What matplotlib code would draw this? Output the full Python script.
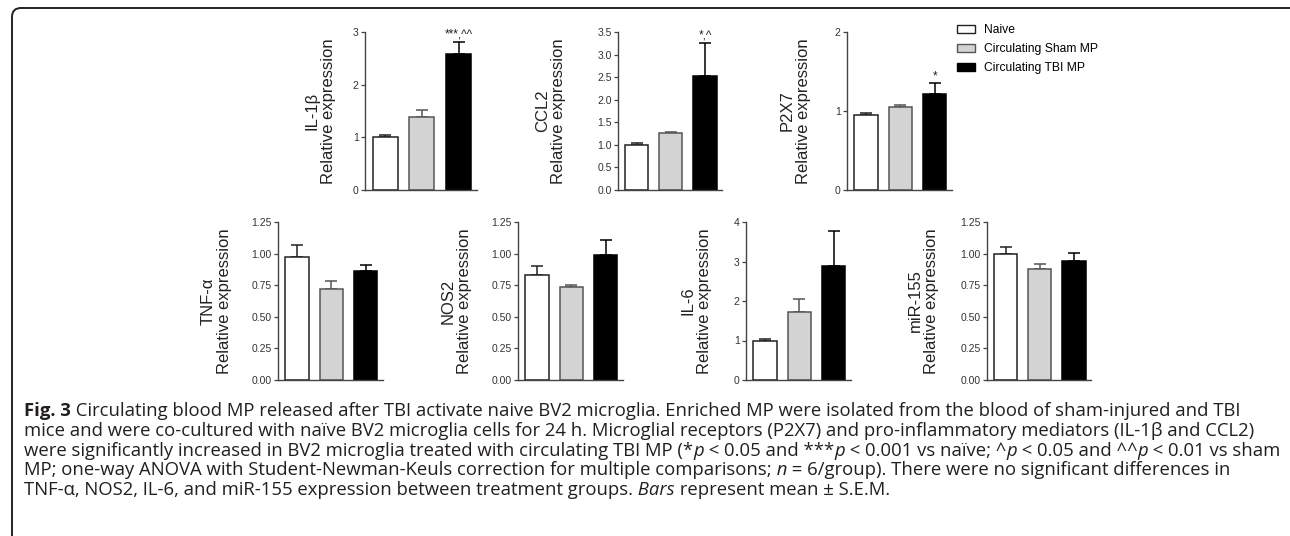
import matplotlib
matplotlib.use("Agg")
import matplotlib.pyplot as plt
from matplotlib.patches import Patch, FancyBboxPatch
from matplotlib.transforms import IdentityTransform

# groups and colours
groups = ["Naive", "Circulating Sham MP", "Circulating TBI MP"]
fills = ["#ffffff", "#d3d3d3", "#000000"]
edges = ["#222222", "#555555", "#000000"]

# mean and S.E.M.
il1b_mean = [1.00, 1.39, 2.59]
il1b_sem = [0.04, 0.13, 0.22]
ccl2_mean = [1.00, 1.26, 2.53]
ccl2_sem = [0.04, 0.015, 0.73]
p2x7_mean = [0.95, 1.05, 1.21]
p2x7_sem = [0.02, 0.03, 0.14]
tnf_mean = [0.97, 0.72, 0.86]
tnf_sem = [0.095, 0.066, 0.05]
nos2_mean = [0.83, 0.735, 0.99]
nos2_sem = [0.074, 0.02, 0.114]
il6_mean = [1.00, 1.73, 2.89]
il6_sem = [0.05, 0.32, 0.89]
mir155_mean = [1.00, 0.877, 0.941]
mir155_sem = [0.056, 0.043, 0.066]

# y ticks
ticks_3 = [0, 1, 2, 3]
ticks_ccl2 = [0.0, 0.5, 1.0, 1.5, 2.0, 2.5, 3.0, 3.5]
ticks_2 = [0, 1, 2]
ticks_125 = [0.00, 0.25, 0.50, 0.75, 1.00, 1.25]
ticks_4 = [0, 1, 2, 3, 4]

# significance marks
sig_il1b = ["", "", "***,^^"]
sig_ccl2 = ["", "", "*,^"]
sig_p2x7 = ["", "", "*"]
no_sig = ["", "", ""]

# caption lines as (text, style) pieces; spaces only lead a piece
caption = [
    [("Fig. 3", "bold"),
     (" Circulating blood MP released after TBI activate naive BV2 microglia. Enriched MP were isolated from the blood of sham-injured and TBI", "normal")],
    [("mice and were co-cultured with naïve BV2 microglia cells for 24 h. Microglial receptors (P2X7) and pro-inflammatory mediators (IL-1β and CCL2)", "normal")],
    [("were significantly increased in BV2 microglia treated with circulating TBI MP (*", "normal"),
     ("p", "italic"), (" < 0.05 and ***", "normal"), ("p", "italic"),
     (" < 0.001 vs naïve; ^", "normal"), ("p", "italic"), (" < 0.05 and ^^", "normal"),
     ("p", "italic"), (" < 0.01 vs sham", "normal")],
    [("MP; one-way ANOVA with Student-Newman-Keuls correction for multiple comparisons;", "normal"),
     (" n", "italic"), (" = 6/group). There were no significant differences in", "normal")],
    [("TNF-α, NOS2, IL-6, and miR-155 expression between treatment groups.", "normal"),
     (" Bars", "italic"), (" represent mean ± S.E.M.", "normal")],
]

cap_font = "Open Sans"
plt.rcParams["font.family"] = ["Liberation Sans", "DejaVu Sans"]

W, H = 1290, 536
fig = plt.figure(figsize=(W / 100, H / 100), dpi=100)

panels = [
    # label, mean, sem, ticks, fmt, sig, left px, right px, label px, top row?
    ("IL-1β", il1b_mean, il1b_sem, ticks_3, "{:.0f}", sig_il1b, 365, 477, 336, True),
    ("CCL2", ccl2_mean, ccl2_sem, ticks_ccl2, "{:.1f}", sig_ccl2, 618, 722, 566, True),
    ("P2X7", p2x7_mean, p2x7_sem, ticks_2, "{:.0f}", sig_p2x7, 847, 952, 811, True),
    ("TNF-α", tnf_mean, tnf_sem, ticks_125, "{:.2f}", no_sig, 278, 383, 232, False),
    ("NOS2", nos2_mean, nos2_sem, ticks_125, "{:.2f}", no_sig, 518, 623, 472, False),
    ("IL-6", il6_mean, il6_sem, ticks_4, "{:.0f}", no_sig, 746, 851, 712, False),
    ("miR-155", mir155_mean, mir155_sem, ticks_125, "{:.2f}", no_sig, 987, 1091, 939, False),
]

x = [0, 1, 2]
for label, mean, sem, ticks, fmt, sig, lpx, rpx, labpx, top in panels:
    ybot, ytop = (190, 32) if top else (380, 222)
    ax = fig.add_axes([lpx / W, 1 - ybot / H, (rpx - lpx) / W, (ybot - ytop) / H])
    ax.bar(x, mean, width=0.68, color=fills, edgecolor=edges, linewidth=1.1, zorder=2)
    for i in x:
        ax.errorbar(i, mean[i], yerr=[[0], [sem[i]]], fmt="none", ecolor=edges[i],
                    elinewidth=1.1, capsize=4, capthick=1.1, zorder=1)
        if sig[i]:
            ax.annotate(sig[i], (i, mean[i] + sem[i]), xytext=(0, 1), textcoords="offset points",
                        ha="center", va="bottom", fontsize=8.5, color="#222222",
                        annotation_clip=False)
    ax.set_xlim(-0.55, 2.5)
    ax.set_ylim(ticks[0], ticks[-1])
    ax.set_yticks(ticks)
    ax.set_yticklabels([fmt.format(t) for t in ticks])
    ax.set_xticks([])
    for s in ["top", "right"]:
        ax.spines[s].set_visible(False)
    for s in ["left", "bottom"]:
        ax.spines[s].set_color("#444444")
        ax.spines[s].set_linewidth(1.0)
    ax.tick_params(axis="y", length=3, width=0.9, color="#444444", labelsize=7.5,
                   labelcolor="#333333", pad=1.5)
    ax.set_ylabel(label + "\nRelative expression", fontsize=12, color="#222222",
                  linespacing=1.1)
    ax.yaxis.set_label_coords((labpx - lpx) / (rpx - lpx), 0.5)

# legend
handles = [Patch(facecolor=f, edgecolor=e, linewidth=1.0) for f, e in zip(fills, edges)]
fig.legend(handles, groups, loc="upper left", bbox_to_anchor=(957 / W, 1 - 24 / H),
           frameon=False, fontsize=8.7, handlelength=1.5, handleheight=0.6,
           handletextpad=0.75, labelspacing=0.6, borderpad=0, borderaxespad=0)

# frame round the figure
frame = FancyBboxPatch((12, -30), 1300, H - 8 + 30, boxstyle="round,pad=0,rounding_size=9",
                       transform=IdentityTransform(), fill=False, linewidth=1.4,
                       edgecolor="#222222")
fig.add_artist(frame)

# caption: pieces placed one after another on each line
line_y = [411, 431, 451, 470, 490]
rows = []
for pieces, yy in zip(caption, line_y):
    row = []
    for txt, style in pieces:
        t = fig.text(24 / W, 1 - yy / H, txt, fontsize=10, family=cap_font, color="#231f20",
                     va="center", ha="left",
                     fontweight="bold" if style == "bold" else "normal",
                     fontstyle="italic" if style == "italic" else "normal")
        row.append(t)
    rows.append(row)

r = fig.canvas.get_renderer()


def place(size):
    ends = []
    for row in rows:
        xpx = 24
        for t in row:
            t.set_fontsize(size)
            t.set_x(xpx / W)
            xpx += t.get_window_extent(r).width
        ends.append(xpx)
    return ends


ends = place(10)
size = 10 * (1280 - 24) / (ends[2] - 24)
place(size)

fig.savefig("out.png", dpi=100)
